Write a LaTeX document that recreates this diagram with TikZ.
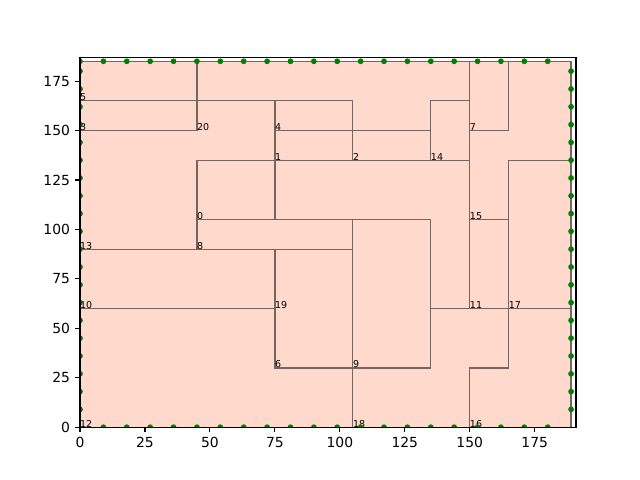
\documentclass[tikz,border=0pt]{standalone}
\usepackage{fontspec}
\setmainfont{DejaVu Sans}
\definecolor{roomfill}{RGB}{255,217,203}
\definecolor{wallgray}{RGB}{118,100,94}
\definecolor{dotgreen}{RGB}{0,128,0}

\begin{document}
\begin{tikzpicture}[x=2.5984pt,y=1.978pt,font=\fontsize{13.9}{16}\selectfont,
  wall/.style={draw=wallgray,line width=1.3pt},
  ptlabel/.style={anchor=base west,inner sep=0pt,font=\fontsize{9.5}{10}\selectfont},
  axisline/.style={line width=1.1pt}]
\useasboundingbox (-30.79,-26.69) rectangle (215.52,215.98);
\fill[roomfill,draw=wallgray,line width=1.3pt] (0,0) rectangle (189,185);
\foreach \n/\px/\py in {0/45/105,1/75/135,2/105/135,3/0/150,4/75/150,5/0/165,6/75/30,7/150/150,8/45/90,9/105/30,10/0/60,11/150/60,12/0/0,13/0/90,14/135/135,15/150/105,16/150/0,17/165/60,18/105/0,19/75/60,20/45/150}{
  \coordinate (p\n) at (\px,\py);}
\draw[wall] (p5) -- (105,165) -- (p2);
\draw[wall] (p3) -- (p20) -- (45,185);
\draw[wall] (p4) -- (135,150);
\draw[wall] (150,165) -- (135,165) -- (p14);
\draw[wall] (75,165) -- (p4) -- (p1) -- (75,105);
\draw[wall] (p8) -- (p0) -- (45,135) -- (150,135);
\draw[wall] (150,185) -- (p7) -- (p15) -- (p11);
\draw[wall] (p7) -- (165,150) -- (165,185);
\draw[wall] (189,135) -- (165,135) -- (165,105) -- (p17) -- (165,30) -- (150,30) -- (p16);
\draw[wall] (p15) -- (165,105);
\draw[wall] (p0) -- (135,105) -- (135,30) -- (p9) -- (p6) -- (p19) -- (75,90);
\draw[wall] (p13) -- (p8) -- (105,90);
\draw[wall] (105,105) -- (p9) -- (p18);
\draw[wall] (p10) -- (p19);
\draw[wall] (135,60) -- (p11) -- (p17) -- (189,60);
\foreach \n in {0,...,20}{\node[ptlabel] (l\n) at (p\n) {\n};}
\begin{scope}
\clip (0,0) rectangle (190.89,186.85);
\foreach \i in {0,...,20}{\fill[dotgreen] (9*\i,185) circle (2.9pt);}
\foreach \i in {1,...,20}{
  \fill[dotgreen] (9*\i,0) circle (2.9pt);
  \fill[dotgreen] (0,9*\i) circle (2.9pt);
  \fill[dotgreen] (189,9*\i) circle (2.9pt);}
\end{scope}
\draw[axisline] (0,0) rectangle (190.89,186.85);
\foreach \t in {0,25,...,175}{
  \draw[axisline] (\t,0) -- ++(0,-4.9pt);
  \node[anchor=north,inner sep=0pt] (xt\t) at ([yshift=-9.8pt]\t,0) {\t};
  \draw[axisline] (0,\t) -- ++(-4.9pt,0);
  \node[anchor=east,inner sep=0pt] (yt\t) at ([xshift=-9.8pt]0,\t) {\t};}
\end{tikzpicture}
\end{document}
